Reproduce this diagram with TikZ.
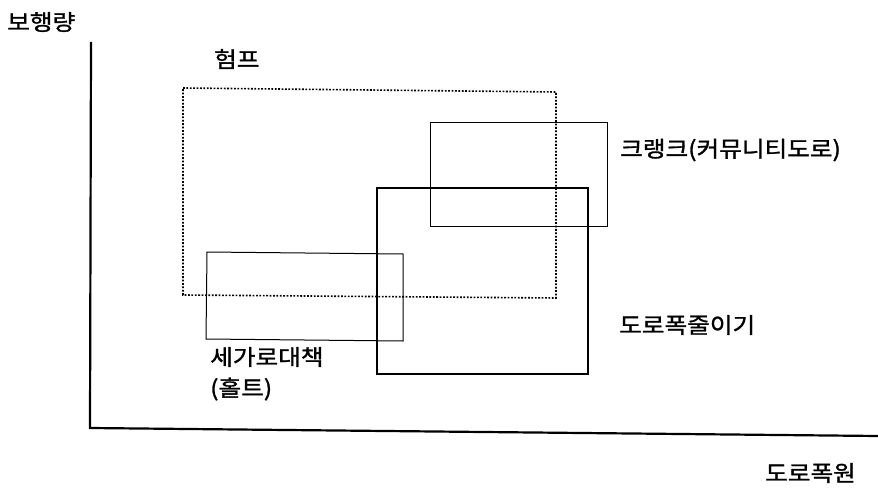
\documentclass[tikz,border=0pt]{standalone}
\usepackage{fontspec}
\newfontfamily\kr[FakeStretch=1.12,FakeBold=1.3]{Noto Sans CJK KR}
\begin{document}
\begin{tikzpicture}[x=1pt,y=-1pt,
  lbl/.style={font=\kr\fontsize{22}{26}\selectfont, inner sep=0pt, anchor=west},
  axisline/.style={line width=2.2pt},
  thinbox/.style={line width=1pt},
  dotbox/.style={line width=1.6pt, dash pattern=on 1.8pt off 1.6pt},
  heavybox/.style={line width=2.6pt}]
\useasboundingbox (0,0) rectangle (878,492);
% axes
\coordinate (top) at (91,42);
\coordinate (origin) at (90,428);
\coordinate (xend) at (878,436);
\draw[axisline] (top) -- (origin) -- (xend);
% boxes
\draw[dotbox] (183,88) -- (556,92) -- (556,298) -- (183,295) -- cycle;
\draw[thinbox] (430,123) rectangle (607,226);
\draw[heavybox] (377,188) rectangle (588,374);
\draw[thinbox] (207,252) -- (403,254) -- (403,341) -- (206,339) -- cycle;
% labels
\node[lbl] (yl) at (7,22) {보행량};
\node[lbl] (hump) at (214,59) {험프};
\node[lbl] (crank) at (620,150) {크랭크(커뮤니티도로)};
\node[lbl] (narrow) at (619,325) {도로폭줄이기};
\node[lbl] (holt1) at (210,357) {세가로대책};
\node[lbl] (holt2) at (210,389) {(홀트)};
\node[lbl] (xl) at (765,473) {도로폭원};
\end{tikzpicture}
\end{document}
